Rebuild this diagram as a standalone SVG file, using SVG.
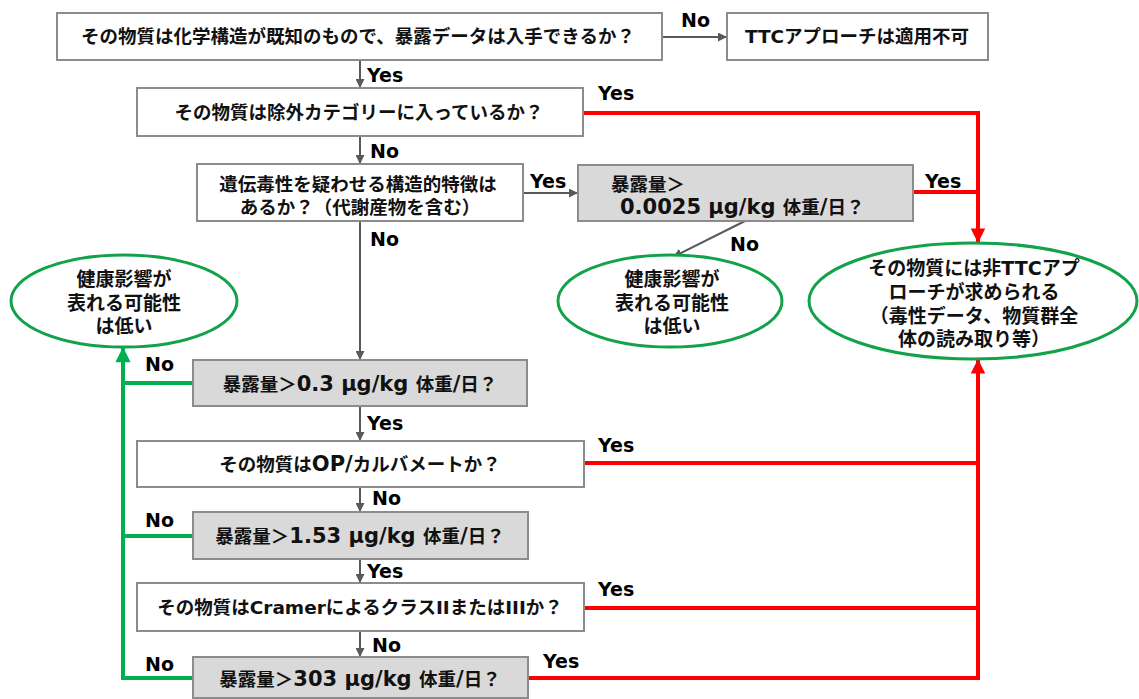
<svg xmlns="http://www.w3.org/2000/svg" width="1139" height="699" viewBox="0 0 1139 699">
<style>
.box{fill:#ffffff;stroke:#8c8c8c;stroke-width:2}
.gbox{fill:#d9d9d9;stroke:#8c8c8c;stroke-width:2}
.ell{fill:#ffffff;stroke:#12a24a;stroke-width:3}
.t{font-family:"DejaVu Sans","Noto Sans CJK JP",sans-serif;font-weight:bold;font-size:18.5px;fill:#111;text-anchor:middle}
.ts{font-family:"DejaVu Sans","Noto Sans CJK JP",sans-serif;font-weight:bold;font-size:18.5px;fill:#111;text-anchor:start}
.te{font-family:"DejaVu Sans","Noto Sans CJK JP",sans-serif;font-weight:bold;font-size:19px;fill:#111;text-anchor:middle}
.lat{font-size:21px}
.lbl{font-family:"DejaVu Sans","Noto Sans CJK JP",sans-serif;font-weight:bold;font-size:19px;fill:#000}
.gl{fill:none;stroke:#595959;stroke-width:2}
.rl{fill:none;stroke:#ff0000;stroke-width:4}
.grl{fill:none;stroke:#00b050;stroke-width:4}
</style>
<defs>
<marker id="ag" viewBox="0 0 10 10" refX="10" refY="5" markerWidth="4.5" markerHeight="4.5" orient="auto" markerUnits="strokeWidth"><path d="M0,0 L10,5 L0,10 z" fill="#595959"/></marker>
<marker id="ar" viewBox="0 0 10 10" refX="10" refY="5" markerWidth="5.5" markerHeight="3.6" orient="auto" markerUnits="strokeWidth"><path d="M0,0 L10,5 L0,10 z" fill="#ff0000"/></marker>
<marker id="agr" viewBox="0 0 10 10" refX="10" refY="5" markerWidth="5.5" markerHeight="3.8" orient="auto" markerUnits="strokeWidth"><path d="M0,0 L10,5 L0,10 z" fill="#00b050"/></marker>
</defs>
<rect width="1139" height="699" fill="#ffffff"/>

<g id="connectors">
  <line class="gl" x1="360" y1="60" x2="360" y2="88" marker-end="url(#ag)"/>
  <line class="gl" x1="662" y1="37" x2="727" y2="37" marker-end="url(#ag)"/>
  <line class="gl" x1="360" y1="136" x2="360" y2="164" marker-end="url(#ag)"/>
  <line class="gl" x1="523" y1="193" x2="578" y2="193" marker-end="url(#ag)"/>
  <line class="gl" x1="745" y1="221" x2="673" y2="257" marker-end="url(#ag)"/>
  <line class="gl" x1="360" y1="221" x2="360" y2="360" marker-end="url(#ag)"/>
  <line class="gl" x1="360" y1="406" x2="360" y2="441" marker-end="url(#ag)"/>
  <line class="gl" x1="360" y1="487" x2="360" y2="512" marker-end="url(#ag)"/>
  <line class="gl" x1="360" y1="559" x2="360" y2="583" marker-end="url(#ag)"/>
  <line class="gl" x1="360" y1="631" x2="360" y2="657" marker-end="url(#ag)"/>

  <path class="rl" d="M583,113 H978 V243" marker-end="url(#ar)"/>
  <line class="rl" x1="913" y1="192" x2="978" y2="192"/>
  <line class="rl" x1="584" y1="463" x2="978" y2="463"/>
  <line class="rl" x1="584" y1="608" x2="978" y2="608"/>
  <path class="rl" d="M528,678 H978 V359" marker-end="url(#ar)"/>

  <path class="grl" d="M193,678 H123 V347" marker-end="url(#agr)"/>
  <line class="grl" x1="193" y1="383" x2="123" y2="383"/>
  <line class="grl" x1="193" y1="536" x2="123" y2="536"/>

  <text class="lbl" x="681" y="27">No</text>
  <text class="lbl" x="367" y="82">Yes</text>
  <text class="lbl" x="598" y="100">Yes</text>
  <text class="lbl" x="370" y="158">No</text>
  <text class="lbl" x="530" y="188">Yes</text>
  <text class="lbl" x="925" y="188">Yes</text>
  <text class="lbl" x="370" y="246">No</text>
  <text class="lbl" x="730" y="251">No</text>
  <text class="lbl" x="145" y="371">No</text>
  <text class="lbl" x="367" y="430">Yes</text>
  <text class="lbl" x="598" y="452">Yes</text>
  <text class="lbl" x="372" y="505">No</text>
  <text class="lbl" x="145" y="527">No</text>
  <text class="lbl" x="367" y="578">Yes</text>
  <text class="lbl" x="598" y="596">Yes</text>
  <text class="lbl" x="372" y="652">No</text>
  <text class="lbl" x="145" y="671">No</text>
  <text class="lbl" x="543" y="668">Yes</text>
</g>

<g id="n1">
  <rect class="box" x="57" y="13" width="605" height="47"/>
  <text class="t" x="358" y="43">その物質は化学構造が既知のもので、暴露データは入手できるか？</text>
</g>
<g id="n_ttc">
  <rect class="box" x="727" y="13" width="261" height="47"/>
  <text class="t" x="857" y="43">TTCアプローチは適用不可</text>
</g>
<g id="n2">
  <rect class="box" x="137" y="88" width="446" height="48"/>
  <text class="t" x="359" y="119">その物質は除外カテゴリーに入っているか？</text>
</g>
<g id="n3">
  <rect class="box" x="197" y="164" width="326" height="57"/>
  <text class="t" x="358" y="191">遺伝毒性を疑わせる構造的特徴は</text>
  <text class="t" x="360" y="214">あるか？（代謝産物を含む）</text>
</g>
<g id="n_g1">
  <rect class="gbox" x="578" y="165" width="335" height="56"/>
  <text class="ts" x="611" y="191">暴露量＞</text>
  <text class="ts" x="620" y="214"><tspan class="lat">0.0025 µg/kg </tspan>体重<tspan class="lat">/</tspan>日？</text>
</g>
<g id="e_left">
  <ellipse class="ell" cx="124" cy="301" rx="113" ry="46"/>
  <text class="te" x="124" y="286">健康影響が</text>
  <text class="te" x="124" y="310">表れる可能性</text>
  <text class="te" x="124" y="333">は低い</text>
</g>
<g id="e_mid">
  <ellipse class="ell" cx="670" cy="301" rx="112" ry="46"/>
  <text class="te" x="672" y="286">健康影響が</text>
  <text class="te" x="672" y="310">表れる可能性</text>
  <text class="te" x="672" y="333">は低い</text>
</g>
<g id="e_right">
  <ellipse class="ell" cx="973" cy="301" rx="164" ry="58"/>
  <text class="te" x="974" y="275">その物質には非TTCアプ</text>
  <text class="te" x="974" y="299">ローチが求められる</text>
  <text class="te" x="974" y="323">（毒性データ、物質群全</text>
  <text class="te" x="974" y="346">体の読み取り等）</text>
</g>
<g id="n_g03">
  <rect class="gbox" x="193" y="360" width="334" height="46"/>
  <text class="t" x="360" y="391">暴露量＞<tspan class="lat">0.3 µg/kg </tspan>体重<tspan class="lat">/</tspan>日？</text>
</g>
<g id="n_op">
  <rect class="box" x="137" y="441" width="447" height="46"/>
  <text class="t" x="360" y="471">その物質は<tspan class="lat">OP/</tspan>カルバメートか？</text>
</g>
<g id="n_g153">
  <rect class="gbox" x="193" y="512" width="335" height="47"/>
  <text class="t" x="360" y="543">暴露量＞<tspan class="lat">1.53 µg/kg </tspan>体重<tspan class="lat">/</tspan>日？</text>
</g>
<g id="n_cramer">
  <rect class="box" x="137" y="583" width="447" height="48"/>
  <text class="t" x="360" y="614">その物質はCramerによるクラスIIまたはIIIか？</text>
</g>
<g id="n_g303">
  <rect class="gbox" x="193" y="657" width="335" height="41"/>
  <text class="t" x="360" y="686">暴露量＞<tspan class="lat">303 µg/kg </tspan>体重<tspan class="lat">/</tspan>日？</text>
</g>
</svg>
